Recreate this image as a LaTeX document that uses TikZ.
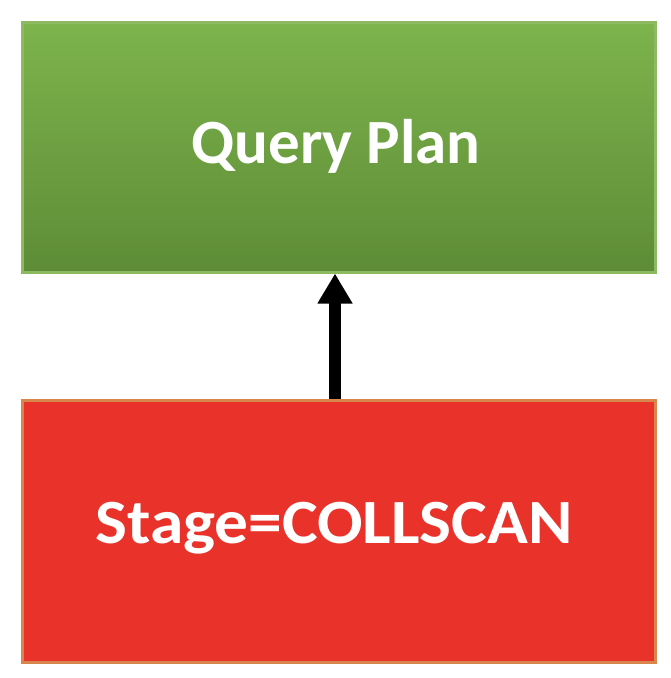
\documentclass[tikz,border=0pt]{standalone}
\usepackage{fontspec}
\setmainfont{Carlito}
\usetikzlibrary{arrows.meta}
\definecolor{gtop}{HTML}{7DB44C}
\definecolor{gbot}{HTML}{5E8C37}
\definecolor{gedge}{HTML}{8DBA60}
\definecolor{rfill}{HTML}{E8322A}
\definecolor{redge}{HTML}{D9864C}
\begin{document}
\begin{tikzpicture}[x=1pt,y=-1pt,
  boxtext/.style={text=white,font=\bfseries\fontsize{63}{63}\selectfont},
  greenbox/.style={minimum width=633pt,minimum height=250pt,inner sep=0pt,
    top color=gtop,bottom color=gbot,draw=gedge,line width=3pt},
  redbox/.style={minimum width=633pt,minimum height=262pt,inner sep=0pt,
    fill=rfill,draw=redge,line width=3pt},
  flowarrow/.style={line width=12pt,-{Triangle[width=33pt,length=30pt]}}]
\useasboundingbox[fill=white] (0,0) rectangle (670,678);
\node[greenbox] (qp) at (338.5,147) {};
\node[boxtext] (qpt) at (336,146) {Query Plan};
\node[redbox] (st) at (338.5,531) {};
\node[boxtext,xscale=1.07,transform shape] (stt) at (334,528) {Stage=COLLSCAN};
\draw[flowarrow] (st.north -| 335,0) -- (qp.south -| 335,0);
\end{tikzpicture}
\end{document}
